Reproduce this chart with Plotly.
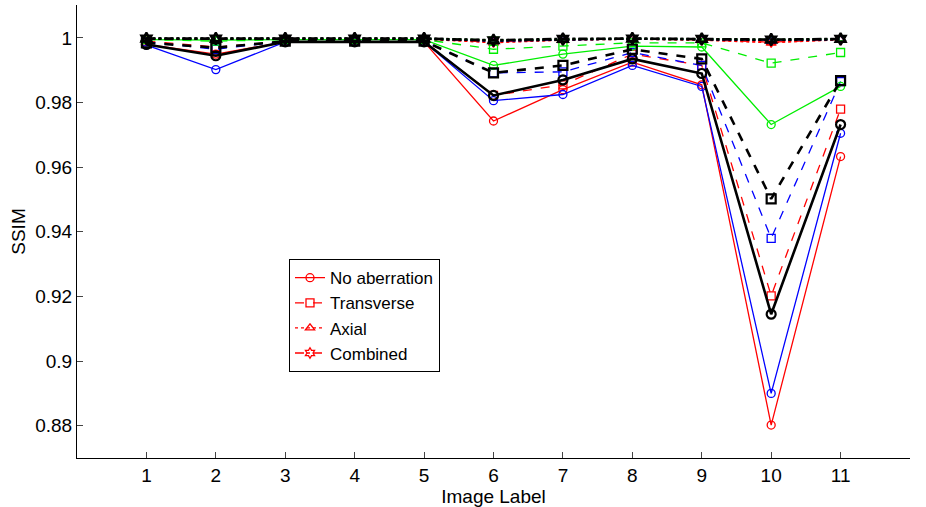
import plotly.graph_objects as go

x = list(range(1, 12))

# SSIM values, by colour group and aberration type
red_none = [0.9980, 0.9950, 0.9988, 0.9988, 0.9988, 0.9743, 0.9840, 0.9925, 0.9855, 0.8802, 0.9633]
red_trans = [0.9990, 0.9972, 0.9990, 0.9990, 0.9990, 0.9822, 0.9855, 0.9950, 0.9915, 0.9202, 0.9780]
red_axial = [0.9996, 0.9995, 0.9996, 0.9996, 0.9996, 0.9985, 0.9993, 0.9996, 0.9993, 0.9985, 0.9994]
red_comb = [0.9997, 0.9996, 0.9997, 0.9997, 0.9997, 0.9987, 0.9994, 0.9997, 0.9994, 0.9987, 0.9995]

blue_none = [0.9978, 0.9902, 0.9988, 0.9988, 0.9988, 0.9806, 0.9825, 0.9915, 0.9850, 0.8900, 0.9705]
blue_trans = [0.9988, 0.9965, 0.9990, 0.9990, 0.9990, 0.9892, 0.9895, 0.9955, 0.9915, 0.9380, 0.9865]
blue_axial = [0.9997, 0.9996, 0.9997, 0.9997, 0.9997, 0.9990, 0.9994, 0.9997, 0.9995, 0.9992, 0.9995]
blue_comb = [0.9998, 0.9997, 0.9998, 0.9998, 0.9998, 0.9991, 0.9995, 0.9998, 0.9996, 0.9993, 0.9996]

green_none = [0.9995, 0.9993, 0.9995, 0.9995, 0.9995, 0.9915, 0.9950, 0.9975, 0.9972, 0.9732, 0.9850]
green_trans = [0.9995, 0.9990, 0.9995, 0.9995, 0.9995, 0.9965, 0.9975, 0.9985, 0.9985, 0.9922, 0.9955]
green_axial = [0.9998, 0.9997, 0.9998, 0.9998, 0.9998, 0.9993, 0.9996, 0.9998, 0.9997, 0.9994, 0.9997]
green_comb = [0.9998, 0.9998, 0.9998, 0.9998, 0.9998, 0.9994, 0.9997, 0.9998, 0.9997, 0.9995, 0.9997]

black_none = [0.9980, 0.9945, 0.9988, 0.9988, 0.9988, 0.9822, 0.9870, 0.9935, 0.9890, 0.9145, 0.9732]
black_trans = [0.9985, 0.9970, 0.9990, 0.9990, 0.9990, 0.9892, 0.9915, 0.9965, 0.9935, 0.9502, 0.9868]
black_axial = [0.9998, 0.9997, 0.9998, 0.9998, 0.9998, 0.9992, 0.9996, 0.9998, 0.9996, 0.9994, 0.9996]
black_comb = [0.9998, 0.9998, 0.9998, 0.9998, 0.9998, 0.9993, 0.9997, 0.9998, 0.9997, 0.9995, 0.9997]

legend_names = ["No aberration", "Transverse", "Axial", "Combined"]
x_ticks = list(range(1, 12))
y_ticks = [0.88, 0.90, 0.92, 0.94, 0.96, 0.98, 1.00]
y_tick_text = ["0.88", "0.9", "0.92", "0.94", "0.96", "0.98", "1"]

dashes = ["solid", "dash", "dot", "dashdot"]
symbols = ["circle-open", "square-open", "triangle-up-open", "hexagram-open"]

groups = [
    ("#ff0000", [red_none, red_trans, red_axial, red_comb], 1.3, True),
    ("#0000ff", [blue_none, blue_trans, blue_axial, blue_comb], 1.3, False),
    ("#00ee00", [green_none, green_trans, green_axial, green_comb], 1.3, False),
    ("#000000", [black_none, black_trans, black_axial, black_comb], 2.6, False),
]

fig = go.Figure()
for color, series, lw, show in groups:
    for i, ys in enumerate(series):
        fig.add_trace(go.Scatter(
            x=x, y=ys, mode="lines+markers",
            name=legend_names[i], showlegend=show,
            line=dict(color=color, width=lw, dash=dashes[i]),
            marker=dict(symbol=symbols[i], size=8 if lw < 2 else 9,
                        color=color, line=dict(color=color, width=lw if lw < 2 else 2.2)),
        ))

font = "Liberation Sans, Arial, sans-serif"
fig.update_layout(
    width=926, height=507,
    margin=dict(l=77, r=16, t=5, b=49),
    plot_bgcolor="white", paper_bgcolor="white",
    font=dict(family=font, size=19, color="black"),
    showlegend=True,
    legend=dict(x=0.2545, y=0.439, xanchor="left", yanchor="top",
                bgcolor="white", bordercolor="black", borderwidth=1,
                font=dict(size=17), tracegroupgap=0, itemwidth=30),
    xaxis=dict(range=[0, 12], tickvals=x_ticks, ticks="inside", ticklen=6,
               showline=True, linecolor="black", linewidth=1, showgrid=False,
               zeroline=False, mirror=False, automargin=False,
               title=dict(text="Image Label", standoff=0, font=dict(size=19))),
    yaxis=dict(range=[0.87, 1.0102], tickvals=y_ticks, ticktext=y_tick_text,
               ticks="inside", ticklen=6,
               showline=True, linecolor="black", linewidth=1, showgrid=False,
               zeroline=False, mirror=False, automargin=False,
               title=dict(text="SSIM", standoff=4, font=dict(size=19))),
)

fig.write_html("out.html")
